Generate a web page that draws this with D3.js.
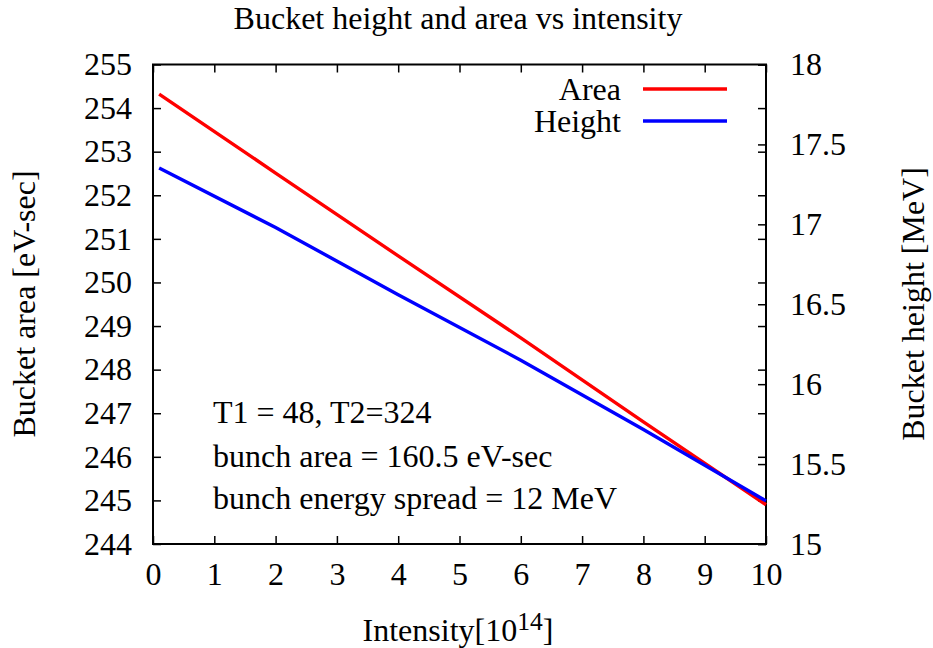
<!DOCTYPE html>
<html>
<head>
<meta charset="utf-8">
<script src="https://cdn.jsdelivr.net/npm/d3@7"></script>
<style>
  html, body { margin: 0; padding: 0; background: #fff; }
  svg text { font-family: "Liberation Serif", "Times New Roman", serif; fill: #000; }
</style>
</head>
<body>
<svg id="chart" width="933" height="648"></svg>
<script>
// Intensity in units of 1e14
const intensity = [0.1, 2, 4, 6, 8, 10];
// Bucket area [eV-sec], left axis
const bucketArea = [254.32, 252.51, 250.61, 248.73, 246.80, 244.90];
// Bucket height [MeV], right axis
const bucketHeight = [17.353, 16.98, 16.56, 16.15, 15.716, 15.27];

const xTicks = [0, 1, 2, 3, 4, 5, 6, 7, 8, 9, 10];
const yTicks = [244, 245, 246, 247, 248, 249, 250, 251, 252, 253, 254, 255];
const y2Ticks = [15, 15.5, 16, 16.5, 17, 17.5, 18];

const notes = ["T1 = 48, T2=324", "bunch area = 160.5 eV-sec", "bunch energy spread = 12 MeV"];
const seriesNames = ["Area", "Height"];
const seriesColors = ["#ff0000", "#0000ff"];

const FS = 32;
const svg = d3.select("#chart");
const plotL = 153, plotR = 766, plotT = 64.5, plotB = 544;

const x = d3.scaleLinear().domain([0, 10]).range([plotL, plotR]);
const y = d3.scaleLinear().domain([244, 255]).range([plotB, plotT]);
const y2 = d3.scaleLinear().domain([15, 18]).range([plotB, plotT]);

const tickLen = 8;

// Bottom axis labels and ticks (mirrored on top)
const gx = svg.append("g").attr("transform", `translate(0,${plotB})`)
  .call(d3.axisBottom(x).tickValues(xTicks).tickSize(-tickLen).tickPadding(18).tickFormat(d3.format("d")));
const gxTop = svg.append("g").attr("transform", `translate(0,${plotT})`)
  .call(d3.axisTop(x).tickValues(xTicks).tickSize(-tickLen).tickFormat(""));

// Left axis (mirrored on right edge)
const gy = svg.append("g").attr("transform", `translate(${plotL},0)`)
  .call(d3.axisLeft(y).tickValues(yTicks).tickSize(-tickLen).tickPadding(21).tickFormat(d3.format("d")));
const gyMirror = svg.append("g").attr("transform", `translate(${plotR},0)`)
  .call(d3.axisRight(y).tickValues(yTicks).tickSize(-tickLen).tickFormat(""));

// Right axis for height
const gy2 = svg.append("g").attr("transform", `translate(${plotR},0)`)
  .call(d3.axisRight(y2).tickValues(y2Ticks).tickSize(-tickLen).tickPadding(24).tickFormat(d => d3.format("")(d)));

[gx, gxTop, gy, gyMirror, gy2].forEach(g => {
  g.select(".domain").remove();
  g.selectAll(".tick line").attr("stroke", "#000").attr("stroke-width", 1.5);
  g.selectAll(".tick text").attr("font-size", FS).attr("font-family", "Liberation Serif");
});
gx.selectAll(".tick text").attr("dy", "0.71em");

// Frame
svg.append("rect").attr("x", plotL).attr("y", plotT)
  .attr("width", plotR - plotL).attr("height", plotB - plotT)
  .attr("fill", "none").attr("stroke", "#000").attr("stroke-width", 2);

// Curves
const areaLine = d3.line().x((d, i) => x(intensity[i])).y(d => y(d));
const heightLine = d3.line().x((d, i) => x(intensity[i])).y(d => y2(d));

svg.append("path").datum(bucketArea).attr("d", areaLine)
  .attr("fill", "none").attr("stroke", seriesColors[0]).attr("stroke-width", 3.4);
svg.append("path").datum(bucketHeight).attr("d", heightLine)
  .attr("fill", "none").attr("stroke", seriesColors[1]).attr("stroke-width", 3.4);

// Legend
const legY = [89, 121];
seriesNames.forEach((name, i) => {
  svg.append("text").attr("x", 621).attr("y", legY[i]).attr("dy", "0.35em")
    .attr("text-anchor", "end").attr("font-size", FS).text(name);
  svg.append("line").attr("x1", 643).attr("x2", 727).attr("y1", legY[i]).attr("y2", legY[i])
    .attr("stroke", seriesColors[i]).attr("stroke-width", 3.4);
});

// Annotations
const noteY = [423, 467, 509];
notes.forEach((t, i) => {
  svg.append("text").attr("x", 213).attr("y", noteY[i]).attr("font-size", FS).text(t);
});

// Title
svg.append("text").attr("x", 458).attr("y", 29).attr("text-anchor", "middle")
  .attr("font-size", FS).text("Bucket height and area vs intensity");

// X axis label with superscript
const xl = svg.append("text").attr("x", 458).attr("y", 641).attr("text-anchor", "middle").attr("font-size", FS);
xl.append("tspan").text("Intensity[10");
xl.append("tspan").attr("dy", -11).attr("font-size", FS * 0.8).text("14");
xl.append("tspan").attr("dy", 11).text("]");

// Y axis labels
svg.append("text").attr("transform", `translate(35,304) rotate(-90)`)
  .attr("text-anchor", "middle").attr("font-size", FS).text("Bucket area [eV-sec]");
svg.append("text").attr("transform", `translate(924,304) rotate(-90)`)
  .attr("text-anchor", "middle").attr("font-size", FS).text("Bucket height [MeV]");
</script>
</body>
</html>
